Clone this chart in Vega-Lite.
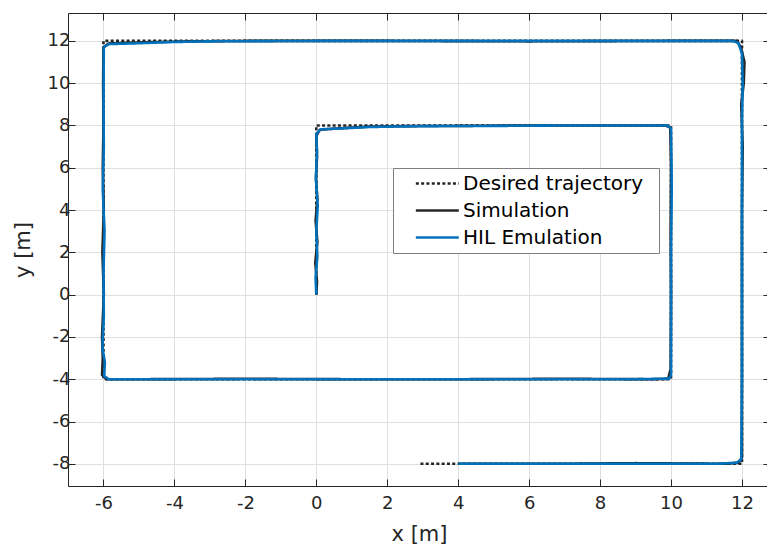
{
  "$schema": "https://vega.github.io/schema/vega-lite/v6.json",
  "width": 702,
  "height": 473,
  "autosize": {"type": "none"},
  "padding": {"left": 68, "top": 13, "right": 0, "bottom": 60},
  "background": "white",
  "config": {
    "view": {"stroke": null},
    "font": "DejaVu Sans",
    "axis": {
      "domainColor": "#262626",
      "domainWidth": 1,
      "tickColor": "#262626",
      "tickWidth": 1,
      "labelColor": "#262626",
      "titleColor": "#262626",
      "labelFont": "DejaVu Sans",
      "titleFont": "DejaVu Sans",
      "labelFontSize": 18,
      "titleFontSize": 21,
      "titleFontWeight": "normal",
      "gridColor": "#dfdfdf",
      "gridWidth": 1,
      "labelExpr": "'' + datum.value"
    },
    "legend": {
      "orient": "none",
      "legendX": 325,
      "legendY": 155,
      "fillColor": "white",
      "strokeColor": "#7f7f7f",
      "padding": 2,
      "symbolType": "M-1,0H5",
      "symbolSize": 205,
      "symbolOffset": 18,
      "labelOffset": 30,
      "clipHeight": 27,
      "rowPadding": 0,
      "labelFont": "DejaVu Sans",
      "labelFontSize": 20,
      "labelColor": "black",
      "labelLimit": 400,
      "titleOrient": "right",
      "titleFontSize": 1,
      "titlePadding": 14,
      "titleColor": "white"
    }
  },
  "data": {
    "values": [
      {"s": "Desired trajectory", "i": 0, "x": 0, "y": 0},
      {"s": "Desired trajectory", "i": 1, "x": 0, "y": 8},
      {"s": "Desired trajectory", "i": 2, "x": 10, "y": 8},
      {"s": "Desired trajectory", "i": 3, "x": 10, "y": -4},
      {"s": "Desired trajectory", "i": 4, "x": -6, "y": -4},
      {"s": "Desired trajectory", "i": 5, "x": -6, "y": 12},
      {"s": "Desired trajectory", "i": 6, "x": 12, "y": 12},
      {"s": "Desired trajectory", "i": 7, "x": 12, "y": -8},
      {"s": "Desired trajectory", "i": 8, "x": 2.92, "y": -8},

      {"s": "Simulation", "i": 0, "x": 0.0, "y": 0.0},
      {"s": "Simulation", "i": 1, "x": 0.02, "y": 0.6},
      {"s": "Simulation", "i": 2, "x": -0.03, "y": 1.5},
      {"s": "Simulation", "i": 3, "x": 0.03, "y": 2.5},
      {"s": "Simulation", "i": 4, "x": -0.02, "y": 3.5},
      {"s": "Simulation", "i": 5, "x": 0.03, "y": 4.5},
      {"s": "Simulation", "i": 6, "x": -0.01, "y": 5.5},
      {"s": "Simulation", "i": 7, "x": 0.02, "y": 6.5},
      {"s": "Simulation", "i": 8, "x": 0.0, "y": 7.5},
      {"s": "Simulation", "i": 9, "x": 0.1, "y": 7.8},
      {"s": "Simulation", "i": 10, "x": 0.5, "y": 7.85},
      {"s": "Simulation", "i": 11, "x": 1.5, "y": 7.95},
      {"s": "Simulation", "i": 12, "x": 2.5, "y": 7.97},
      {"s": "Simulation", "i": 13, "x": 4, "y": 7.98},
      {"s": "Simulation", "i": 14, "x": 6, "y": 8.0},
      {"s": "Simulation", "i": 15, "x": 8, "y": 8.0},
      {"s": "Simulation", "i": 16, "x": 9.85, "y": 8.0},
      {"s": "Simulation", "i": 17, "x": 9.98, "y": 7.9},
      {"s": "Simulation", "i": 18, "x": 10.0, "y": 6},
      {"s": "Simulation", "i": 19, "x": 9.99, "y": 3},
      {"s": "Simulation", "i": 20, "x": 10.0, "y": 0},
      {"s": "Simulation", "i": 21, "x": 9.99, "y": -3.5},
      {"s": "Simulation", "i": 22, "x": 9.92, "y": -3.98},
      {"s": "Simulation", "i": 23, "x": 9.5, "y": -4.0},
      {"s": "Simulation", "i": 24, "x": 7, "y": -3.98},
      {"s": "Simulation", "i": 25, "x": 4, "y": -4.0},
      {"s": "Simulation", "i": 26, "x": 1, "y": -4.0},
      {"s": "Simulation", "i": 27, "x": -2, "y": -3.98},
      {"s": "Simulation", "i": 28, "x": -5, "y": -4.0},
      {"s": "Simulation", "i": 29, "x": -5.9, "y": -4.0},
      {"s": "Simulation", "i": 30, "x": -6.04, "y": -3.8},
      {"s": "Simulation", "i": 31, "x": -6.02, "y": -3.0},
      {"s": "Simulation", "i": 32, "x": -6.04, "y": -2},
      {"s": "Simulation", "i": 33, "x": -5.99, "y": 0},
      {"s": "Simulation", "i": 34, "x": -6.03, "y": 2},
      {"s": "Simulation", "i": 35, "x": -5.99, "y": 4},
      {"s": "Simulation", "i": 36, "x": -6.02, "y": 6},
      {"s": "Simulation", "i": 37, "x": -6.0, "y": 8},
      {"s": "Simulation", "i": 38, "x": -6.01, "y": 10},
      {"s": "Simulation", "i": 39, "x": -6.0, "y": 11.7},
      {"s": "Simulation", "i": 40, "x": -5.85, "y": 11.88},
      {"s": "Simulation", "i": 41, "x": -5.0, "y": 11.93},
      {"s": "Simulation", "i": 42, "x": -3.5, "y": 11.98},
      {"s": "Simulation", "i": 43, "x": -2, "y": 12.0},
      {"s": "Simulation", "i": 44, "x": 2, "y": 12.0},
      {"s": "Simulation", "i": 45, "x": 6, "y": 11.98},
      {"s": "Simulation", "i": 46, "x": 10, "y": 12.0},
      {"s": "Simulation", "i": 47, "x": 11.85, "y": 12.0},
      {"s": "Simulation", "i": 48, "x": 11.97, "y": 11.7},
      {"s": "Simulation", "i": 49, "x": 12.07, "y": 11},
      {"s": "Simulation", "i": 50, "x": 12.05, "y": 10},
      {"s": "Simulation", "i": 51, "x": 11.98, "y": 9},
      {"s": "Simulation", "i": 52, "x": 12.02, "y": 7},
      {"s": "Simulation", "i": 53, "x": 12.0, "y": 4},
      {"s": "Simulation", "i": 54, "x": 12.0, "y": 0},
      {"s": "Simulation", "i": 55, "x": 12.0, "y": -4},
      {"s": "Simulation", "i": 56, "x": 12.0, "y": -7.7},
      {"s": "Simulation", "i": 57, "x": 11.9, "y": -7.95},
      {"s": "Simulation", "i": 58, "x": 11.5, "y": -8.0},
      {"s": "Simulation", "i": 59, "x": 9, "y": -7.97},
      {"s": "Simulation", "i": 60, "x": 7, "y": -8.0},
      {"s": "Simulation", "i": 61, "x": 5, "y": -8.0},
      {"s": "Simulation", "i": 62, "x": 4.0, "y": -8.0},

      {"s": "HIL Emulation", "i": 0, "x": 0.0, "y": 0.0},
      {"s": "HIL Emulation", "i": 1, "x": -0.02, "y": 0.8},
      {"s": "HIL Emulation", "i": 2, "x": 0.03, "y": 1.8},
      {"s": "HIL Emulation", "i": 3, "x": 0.0, "y": 3},
      {"s": "HIL Emulation", "i": 4, "x": 0.04, "y": 4.2},
      {"s": "HIL Emulation", "i": 5, "x": -0.01, "y": 5.5},
      {"s": "HIL Emulation", "i": 6, "x": 0.02, "y": 6.8},
      {"s": "HIL Emulation", "i": 7, "x": 0.0, "y": 7.6},
      {"s": "HIL Emulation", "i": 8, "x": 0.12, "y": 7.82},
      {"s": "HIL Emulation", "i": 9, "x": 0.6, "y": 7.85},
      {"s": "HIL Emulation", "i": 10, "x": 1.5, "y": 7.93},
      {"s": "HIL Emulation", "i": 11, "x": 3, "y": 7.97},
      {"s": "HIL Emulation", "i": 12, "x": 5, "y": 7.98},
      {"s": "HIL Emulation", "i": 13, "x": 7, "y": 8.0},
      {"s": "HIL Emulation", "i": 14, "x": 9.9, "y": 8.0},
      {"s": "HIL Emulation", "i": 15, "x": 10.0, "y": 7.85},
      {"s": "HIL Emulation", "i": 16, "x": 10.02, "y": 5},
      {"s": "HIL Emulation", "i": 17, "x": 10.0, "y": 2},
      {"s": "HIL Emulation", "i": 18, "x": 10.0, "y": -3.8},
      {"s": "HIL Emulation", "i": 19, "x": 9.95, "y": -3.97},
      {"s": "HIL Emulation", "i": 20, "x": 9, "y": -4.0},
      {"s": "HIL Emulation", "i": 21, "x": 6, "y": -4.0},
      {"s": "HIL Emulation", "i": 22, "x": 2, "y": -4.0},
      {"s": "HIL Emulation", "i": 23, "x": -2, "y": -4.0},
      {"s": "HIL Emulation", "i": 24, "x": -5.85, "y": -4.0},
      {"s": "HIL Emulation", "i": 25, "x": -5.98, "y": -3.85},
      {"s": "HIL Emulation", "i": 26, "x": -5.96, "y": -3.2},
      {"s": "HIL Emulation", "i": 27, "x": -6.03, "y": -2.5},
      {"s": "HIL Emulation", "i": 28, "x": -5.99, "y": -1},
      {"s": "HIL Emulation", "i": 29, "x": -6.0, "y": 1},
      {"s": "HIL Emulation", "i": 30, "x": -5.97, "y": 3},
      {"s": "HIL Emulation", "i": 31, "x": -6.02, "y": 5},
      {"s": "HIL Emulation", "i": 32, "x": -5.99, "y": 7},
      {"s": "HIL Emulation", "i": 33, "x": -6.0, "y": 9},
      {"s": "HIL Emulation", "i": 34, "x": -5.99, "y": 11.7},
      {"s": "HIL Emulation", "i": 35, "x": -5.85, "y": 11.85},
      {"s": "HIL Emulation", "i": 36, "x": -5.2, "y": 11.88},
      {"s": "HIL Emulation", "i": 37, "x": -4, "y": 11.95},
      {"s": "HIL Emulation", "i": 38, "x": -3, "y": 11.98},
      {"s": "HIL Emulation", "i": 39, "x": 0, "y": 12},
      {"s": "HIL Emulation", "i": 40, "x": 4, "y": 12},
      {"s": "HIL Emulation", "i": 41, "x": 8, "y": 12},
      {"s": "HIL Emulation", "i": 42, "x": 11.75, "y": 12},
      {"s": "HIL Emulation", "i": 43, "x": 11.9, "y": 11.9},
      {"s": "HIL Emulation", "i": 44, "x": 12.0, "y": 11.4},
      {"s": "HIL Emulation", "i": 45, "x": 12.02, "y": 10},
      {"s": "HIL Emulation", "i": 46, "x": 12.0, "y": 8},
      {"s": "HIL Emulation", "i": 47, "x": 12.0, "y": 4},
      {"s": "HIL Emulation", "i": 48, "x": 12.0, "y": 0},
      {"s": "HIL Emulation", "i": 49, "x": 12.0, "y": -4},
      {"s": "HIL Emulation", "i": 50, "x": 11.98, "y": -7.8},
      {"s": "HIL Emulation", "i": 51, "x": 11.85, "y": -7.95},
      {"s": "HIL Emulation", "i": 52, "x": 11.3, "y": -8.0},
      {"s": "HIL Emulation", "i": 53, "x": 8, "y": -8.0},
      {"s": "HIL Emulation", "i": 54, "x": 4.0, "y": -8.0}
    ]
  },
  "layer": [
    {
      "mark": {"type": "point", "opacity": 0},
      "encoding": {
        "x": {"field": "x", "type": "quantitative",
              "scale": {"domain": [-7, 12.79], "nice": false, "zero": false},
              "axis": {"orient": "top", "values": [-6, -4, -2, 0, 2, 4, 6, 8, 10, 12], "labels": false, "title": null, "grid": false, "tickSize": -7}},
        "y": {"field": "y", "type": "quantitative",
              "scale": {"domain": [-9.05, 13.32], "nice": false, "zero": false},
              "axis": {"orient": "right", "values": [-8, -6, -4, -2, 0, 2, 4, 6, 8, 10, 12], "labels": false, "title": null, "grid": false, "tickSize": -7}}
      }
    },
    {
      "mark": {"type": "line", "strokeCap": "butt", "strokeJoin": "round"},
      "encoding": {
        "x": {"field": "x", "type": "quantitative",
              "axis": {"orient": "bottom", "values": [-6, -4, -2, 0, 2, 4, 6, 8, 10, 12], "title": "x [m]", "grid": true, "tickSize": -7, "labelPadding": 15, "titlePadding": 11}},
        "y": {"field": "y", "type": "quantitative",
              "axis": {"orient": "left", "values": [-8, -6, -4, -2, 0, 2, 4, 6, 8, 10, 12], "title": "y [m]", "grid": true, "tickSize": -7, "labelPadding": 5, "titlePadding": 14}},
        "order": {"field": "i", "type": "quantitative"},
        "color": {"field": "s", "type": "nominal", "title": "\u00a0",
                  "scale": {"domain": ["Desired trajectory", "Simulation", "HIL Emulation"], "range": ["#262626", "#262626", "#0072BD"]}},
        "strokeDash": {"field": "s", "type": "nominal", "title": "\u00a0",
                  "scale": {"domain": ["Desired trajectory", "Simulation", "HIL Emulation"], "range": [[3, 2.3], [1, 0], [1, 0]]}},
        "strokeWidth": {"field": "s", "type": "nominal", "title": "\u00a0",
                  "scale": {"domain": ["Desired trajectory", "Simulation", "HIL Emulation"], "range": [2.6, 2.6, 3.3]}}
      }
    }
  ],
  "resolve": {"axis": {"x": "independent", "y": "independent"}}
}
